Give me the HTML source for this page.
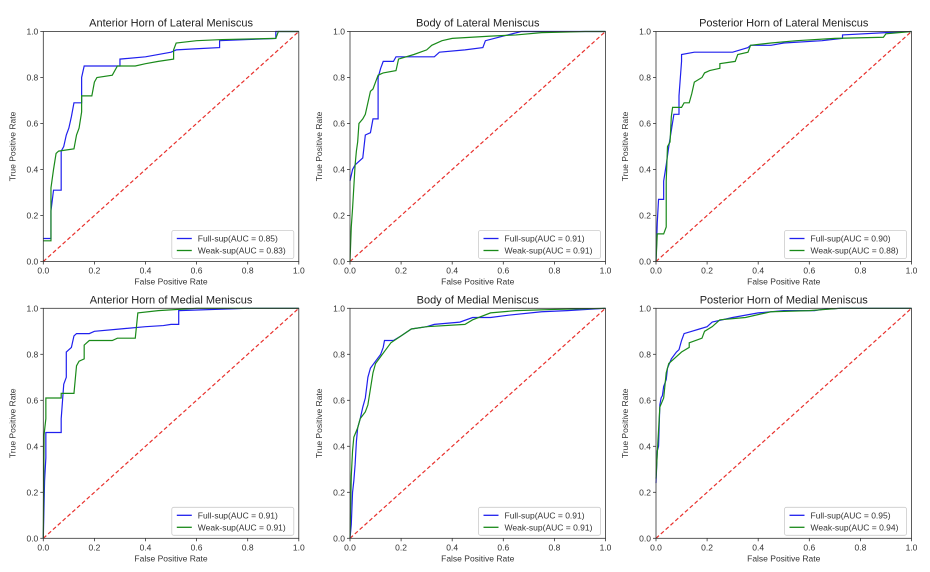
<!DOCTYPE html>
<html><head><meta charset="utf-8"><style>
body{margin:0;background:#fff;font-family:"Liberation Sans","DejaVu Sans",sans-serif;}
svg{display:block}
</style></head><body>
<svg id="fig" width="930" height="572" viewBox="0 0 930 572" xmlns="http://www.w3.org/2000/svg"></svg>
<script>
const titles=["Anterior Horn of Lateral Meniscus","Body of Lateral Meniscus","Posterior Horn of Lateral Meniscus","Anterior Horn of Medial Meniscus","Body of Medial Meniscus","Posterior Horn of Medial Meniscus"];
const aucFull=["0.85","0.91","0.90","0.91","0.91","0.95"];
const aucWeak=["0.83","0.91","0.88","0.91","0.91","0.94"];
const ticks=[0,0.2,0.4,0.6,0.8,1.0];
const full1=[[0,0.10],[0.03,0.10],[0.03,0.22],[0.04,0.31],[0.07,0.31],[0.07,0.48],[0.08,0.50],[0.09,0.55],[0.10,0.58],[0.11,0.63],[0.12,0.69],[0.15,0.69],[0.15,0.80],[0.16,0.85],[0.30,0.85],[0.30,0.88],[0.40,0.89],[0.50,0.91],[0.52,0.92],[0.60,0.925],[0.69,0.93],[0.69,0.96],[0.80,0.965],[0.91,0.97],[0.91,1.0],[1,1]];
const weak1=[[0,0.09],[0.03,0.09],[0.03,0.32],[0.04,0.40],[0.05,0.47],[0.06,0.48],[0.12,0.49],[0.13,0.55],[0.14,0.58],[0.15,0.65],[0.15,0.72],[0.19,0.72],[0.20,0.78],[0.21,0.80],[0.27,0.81],[0.29,0.85],[0.36,0.85],[0.40,0.86],[0.45,0.87],[0.51,0.88],[0.51,0.92],[0.52,0.95],[0.60,0.96],[0.70,0.965],[0.91,0.97],[0.92,1.0],[1,1]];
const full2=[[0,0.35],[0.01,0.40],[0.02,0.42],[0.03,0.43],[0.05,0.45],[0.06,0.55],[0.08,0.56],[0.09,0.62],[0.11,0.62],[0.11,0.80],[0.12,0.84],[0.13,0.87],[0.17,0.87],[0.18,0.89],[0.33,0.89],[0.35,0.91],[0.45,0.92],[0.52,0.93],[0.53,0.96],[0.60,0.98],[0.67,1.0],[1,1]];
const weak2=[[0,0],[0.005,0.15],[0.01,0.23],[0.02,0.42],[0.025,0.48],[0.03,0.52],[0.035,0.60],[0.05,0.62],[0.06,0.64],[0.08,0.74],[0.09,0.75],[0.1,0.78],[0.11,0.81],[0.13,0.82],[0.18,0.83],[0.19,0.88],[0.25,0.90],[0.30,0.92],[0.32,0.94],[0.36,0.96],[0.40,0.97],[0.55,0.98],[0.65,0.985],[0.75,0.995],[0.92,1.0],[1,1]];
const full3=[[0,0],[0.005,0.17],[0.01,0.27],[0.03,0.27],[0.03,0.35],[0.04,0.42],[0.05,0.50],[0.06,0.57],[0.07,0.64],[0.09,0.64],[0.09,0.72],[0.1,0.87],[0.1,0.90],[0.15,0.91],[0.30,0.91],[0.36,0.93],[0.37,0.94],[0.45,0.94],[0.50,0.95],[0.65,0.96],[0.73,0.97],[0.73,0.985],[0.90,0.995],[1,1]];
const weak3=[[0,0],[0.005,0.12],[0.03,0.12],[0.04,0.15],[0.04,0.35],[0.045,0.50],[0.055,0.52],[0.06,0.63],[0.065,0.67],[0.10,0.67],[0.11,0.69],[0.13,0.69],[0.14,0.73],[0.15,0.78],[0.18,0.80],[0.19,0.82],[0.21,0.83],[0.25,0.84],[0.25,0.86],[0.31,0.87],[0.32,0.90],[0.36,0.91],[0.37,0.94],[0.45,0.95],[0.55,0.96],[0.70,0.97],[0.89,0.975],[0.90,0.99],[1,1]];
const full4=[[0,0],[0.005,0.25],[0.01,0.35],[0.01,0.46],[0.07,0.46],[0.07,0.52],[0.08,0.67],[0.09,0.70],[0.09,0.81],[0.11,0.83],[0.12,0.88],[0.13,0.89],[0.18,0.89],[0.2,0.90],[0.3,0.91],[0.4,0.92],[0.47,0.925],[0.50,0.93],[0.53,0.93],[0.53,0.99],[0.8,1.0],[1,1]];
const weak4=[[0,0],[0.003,0.45],[0.01,0.52],[0.01,0.61],[0.07,0.61],[0.07,0.63],[0.12,0.63],[0.13,0.75],[0.14,0.77],[0.16,0.78],[0.16,0.84],[0.18,0.86],[0.27,0.86],[0.29,0.87],[0.36,0.87],[0.37,0.98],[0.45,0.99],[0.6,1.0],[1,1]];
const full5=[[0,0],[0.005,0.06],[0.01,0.20],[0.015,0.25],[0.02,0.32],[0.025,0.42],[0.03,0.48],[0.04,0.52],[0.05,0.57],[0.06,0.61],[0.07,0.70],[0.08,0.74],[0.1,0.77],[0.12,0.80],[0.13,0.83],[0.135,0.86],[0.17,0.86],[0.2,0.88],[0.24,0.91],[0.3,0.92],[0.33,0.93],[0.43,0.94],[0.48,0.96],[0.55,0.96],[0.62,0.97],[0.75,0.985],[0.85,0.99],[1,1]];
const weak5=[[0,0],[0.005,0.27],[0.01,0.38],[0.015,0.44],[0.03,0.48],[0.04,0.52],[0.06,0.55],[0.07,0.58],[0.08,0.65],[0.09,0.72],[0.1,0.76],[0.12,0.79],[0.14,0.82],[0.16,0.85],[0.2,0.88],[0.24,0.91],[0.3,0.92],[0.45,0.93],[0.48,0.95],[0.55,0.98],[0.65,0.99],[0.8,0.995],[1,1]];
const full6=[[0,0.24],[0.005,0.38],[0.01,0.40],[0.015,0.58],[0.02,0.61],[0.025,0.62],[0.03,0.66],[0.04,0.69],[0.045,0.74],[0.06,0.78],[0.08,0.81],[0.09,0.82],[0.1,0.86],[0.11,0.89],[0.14,0.90],[0.17,0.91],[0.2,0.92],[0.22,0.94],[0.3,0.96],[0.4,0.98],[0.5,0.99],[0.62,0.99],[0.65,0.995],[0.72,1.0],[1,1]];
const weak6=[[0,0.26],[0.005,0.37],[0.015,0.57],[0.03,0.61],[0.04,0.72],[0.05,0.76],[0.07,0.78],[0.1,0.81],[0.13,0.83],[0.13,0.85],[0.18,0.87],[0.19,0.90],[0.22,0.92],[0.25,0.95],[0.35,0.96],[0.45,0.985],[0.6,0.99],[0.72,1.0],[1,1]];
const fullSeries=[full1,full2,full3,full4,full5,full6];
const weakSeries=[weak1,weak2,weak3,weak4,weak5,weak6];

const NS="http://www.w3.org/2000/svg";
const svg=document.getElementById('fig');
function mk(tag,attrs,parent){const e=document.createElementNS(NS,tag);for(const k in attrs)e.setAttribute(k,attrs[k]);(parent||svg).appendChild(e);return e;}
const lefts=[43.3,350,656];const tops=[31.5,308.3];const W=255.5,H=230;
for(let i=0;i<6;i++){
  const L=lefts[i%3],T=tops[Math.floor(i/3)];
  const xs=v=>L+v*W, ys=v=>T+H-v*H;
  const g=mk('g',{});
  
  
  const t=mk('text',{x:L+W/2,y:T-5,'text-anchor':'middle','font-size':'11',fill:'#222'},g);t.textContent=titles[i];
  
  ticks.forEach(v=>{
    mk('line',{x1:xs(v),x2:xs(v),y1:T+H,y2:T+H+3,stroke:'#333','stroke-width':0.8},g);
    const tx=mk('text',{x:xs(v),y:T+H+12,'text-anchor':'middle','font-size':'8.5',fill:'#333'},g);tx.textContent=v.toFixed(1);
    
    mk('line',{x1:L-3,x2:L,y1:ys(v),y2:ys(v),stroke:'#333','stroke-width':0.8},g);
    const ty=mk('text',{x:L-5,y:ys(v)+3,'text-anchor':'end','font-size':'8.5',fill:'#333'},g);ty.textContent=v.toFixed(1);
    
  });
  const xl=mk('text',{x:L+W/2,y:T+H+23,'text-anchor':'middle','font-size':'8.5',fill:'#333'},g);xl.textContent='False Positive Rate';
  
  const yl=mk('text',{x:0,y:0,'text-anchor':'middle','font-size':'8.5',fill:'#333',transform:`translate(${L-28},${T+H/2}) rotate(-90)`},g);yl.textContent='True Positive Rate';
  
  const diag=mk('line',{x1:xs(0),y1:ys(0),x2:xs(1),y2:ys(1),stroke:'#e8302c','stroke-width':1.2,'stroke-dasharray':'4,2.5'},g);
  
  const pf=mk('polyline',{points:fullSeries[i].map(p=>xs(p[0])+','+ys(p[1])).join(' '),fill:'none',stroke:'#2020ee','stroke-width':1.2},g);
  
  const pw=mk('polyline',{points:weakSeries[i].map(p=>xs(p[0])+','+ys(p[1])).join(' '),fill:'none',stroke:'#1a8a1a','stroke-width':1.2},g);
  
  mk('rect',{x:L,y:T,width:W,height:H,fill:'none',stroke:'#333','stroke-width':0.8},g);
  const lg=mk('g',{},g);
  
  const lx=L+W-127,ly=T+H-31;
  mk('rect',{x:lx,y:ly,width:122,height:28,fill:'#fff',stroke:'#ccc','stroke-width':0.8,rx:2},lg);
  mk('line',{x1:lx+5,x2:lx+20,y1:ly+8,y2:ly+8,stroke:'#2020ee','stroke-width':1.3},lg);
  mk('line',{x1:lx+5,x2:lx+20,y1:ly+20,y2:ly+20,stroke:'#1a8a1a','stroke-width':1.3},lg);
  const l1=mk('text',{x:lx+26,y:ly+11,'font-size':'8.5',fill:'#333'},lg);l1.textContent='Full-sup(AUC = '+aucFull[i]+')';
  
  const l2=mk('text',{x:lx+26,y:ly+23,'font-size':'8.5',fill:'#333'},lg);l2.textContent='Weak-sup(AUC = '+aucWeak[i]+')';
  
}
</script>
</body></html>
